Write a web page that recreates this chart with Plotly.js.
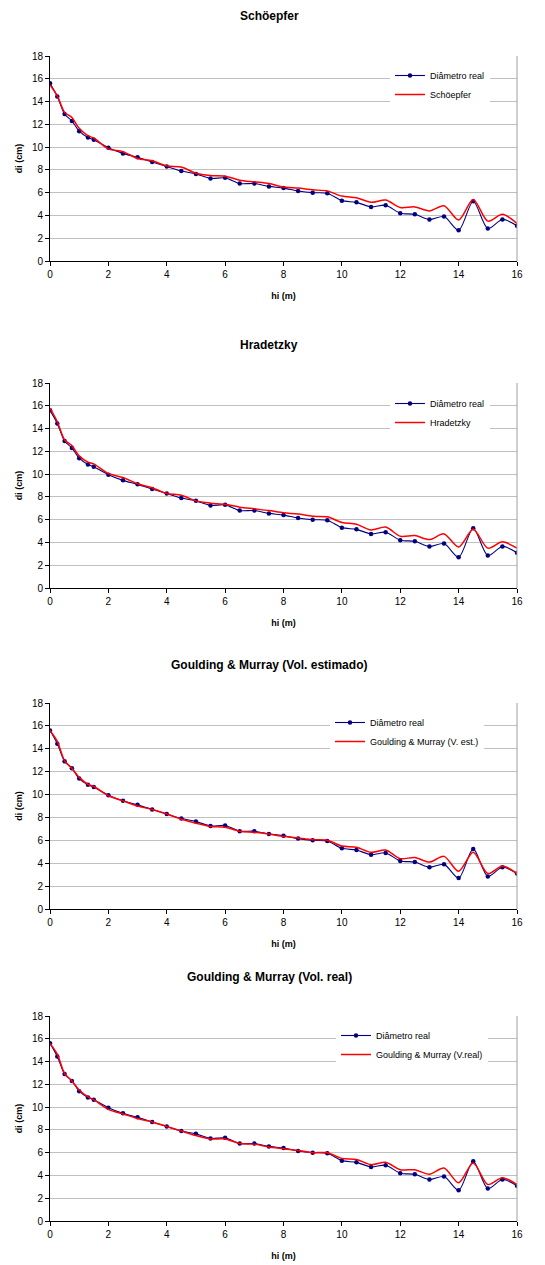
<!DOCTYPE html>
<html>
<head>
<meta charset="utf-8">
<script src="https://cdn.plot.ly/plotly-3.0.1.min.js"></script>
<style>
  html, body { margin: 0; padding: 0; background: #ffffff; }
  #chart { width: 545px; height: 1265px; }
</style>
</head>
<body>
<div id="chart"></div>
<script>
// ---- data ----
const hi = [0, 0.25, 0.5, 0.75, 1, 1.3, 1.5, 2, 2.5, 3, 3.5, 4, 4.5, 5, 5.5, 6, 6.5, 7, 7.5, 8, 8.5, 9, 9.5, 10, 10.5, 11, 11.5, 12, 12.5, 13, 13.5, 14, 14.5, 15, 15.5, 16];
const diametroReal = [15.6, 14.45, 12.9, 12.3, 11.4, 10.85, 10.65, 9.95, 9.45, 9.1, 8.7, 8.3, 7.9, 7.65, 7.25, 7.3, 6.8, 6.8, 6.55, 6.4, 6.15, 6.0, 5.95, 5.3, 5.15, 4.75, 4.9, 4.2, 4.1, 3.65, 3.9, 2.7, 5.25, 2.85, 3.65, 3.1];
const schoepfer = [15.45, 14.5, 13.05, 12.6, 11.65, 11.0, 10.8, 9.85, 9.6, 9.0, 8.8, 8.35, 8.25, 7.7, 7.5, 7.45, 7.1, 6.95, 6.8, 6.5, 6.4, 6.25, 6.15, 5.7, 5.55, 5.15, 5.35, 4.7, 4.75, 4.4, 4.85, 3.6, 5.4, 3.5, 4.1, 3.3];
const hradetzky = [15.8, 14.6, 13.0, 12.5, 11.6, 11.05, 10.9, 10.05, 9.7, 9.15, 8.8, 8.3, 8.15, 7.65, 7.45, 7.35, 7.1, 6.95, 6.8, 6.6, 6.5, 6.3, 6.25, 5.75, 5.6, 5.1, 5.35, 4.55, 4.6, 4.25, 4.75, 3.6, 5.15, 3.5, 4.05, 3.5];
const gmEstimado = [15.6, 14.65, 12.95, 12.3, 11.5, 10.9, 10.7, 9.9, 9.45, 9.0, 8.7, 8.3, 7.85, 7.5, 7.2, 7.15, 6.8, 6.7, 6.55, 6.35, 6.2, 6.05, 6.0, 5.5, 5.4, 4.95, 5.15, 4.4, 4.5, 4.1, 4.6, 3.3, 4.95, 3.1, 3.75, 3.1];
const gmReal = [15.6, 14.65, 12.95, 12.3, 11.5, 10.9, 10.65, 9.8, 9.4, 9.0, 8.7, 8.3, 7.9, 7.5, 7.2, 7.2, 6.8, 6.75, 6.5, 6.35, 6.2, 6.0, 6.0, 5.5, 5.4, 4.95, 5.15, 4.5, 4.5, 4.1, 4.65, 3.35, 5.1, 3.2, 3.8, 3.2];

const chartTitles = ["Schöepfer", "Hradetzky", "Goulding & Murray (Vol. estimado)", "Goulding & Murray (Vol. real)"];
const modelNames = ["Schöepfer", "Hradetzky", "Goulding & Murray (V. est.)", "Goulding & Murray (V.real)"];
const modelSeries = [schoepfer, hradetzky, gmEstimado, gmReal];
const realName = "Diâmetro real";
const xTitle = "hi (m)";
const yTitle = "di (cm)";
const xTicks = [0, 2, 4, 6, 8, 10, 12, 14, 16];
const yTicks = [0, 2, 4, 6, 8, 10, 12, 14, 16, 18];

// ---- layout geometry (pixels) ----
const W = 545, H = 1265;
const plotLeft = 50, plotRight = 517;
const plotTops = [56, 383, 703, 1016];
const plotBottoms = [261, 588, 909, 1221];
const titleYs = [16, 345, 665, 977];
const legendLefts = [390, 390, 330, 336];
const legendTopY = [61, 389, 708, 1021];

const px = x => x / W;
const py = y => 1 - y / H;

const FONT = "Liberation Sans, Arial, Helvetica, sans-serif";
const traces = [];
const layout = {
  width: W, height: H,
  margin: {l: 0, r: 0, t: 0, b: 0},
  paper_bgcolor: "#ffffff",
  plot_bgcolor: "#ffffff",
  font: {family: FONT, size: 10, color: "#000000"},
  annotations: [],
  shapes: [],
  showlegend: true
};

for (let i = 0; i < 4; i++) {
  const sfx = i === 0 ? "" : String(i + 1);
  const xa = "x" + sfx, ya = "y" + sfx;
  const lg = "legend" + sfx;
  traces.push({
    x: hi, y: diametroReal, name: realName, type: "scatter", mode: "lines+markers",
    xaxis: xa, yaxis: ya, legend: lg,
    line: {color: "#000080", width: 1.1, shape: "spline", smoothing: 0.8},
    marker: {color: "#000080", size: 4.5, symbol: "circle"}
  });
  traces.push({
    x: hi, y: modelSeries[i], name: modelNames[i], type: "scatter", mode: "lines",
    xaxis: xa, yaxis: ya, legend: lg,
    line: {color: "#ff0000", width: 1.5, shape: "spline", smoothing: 0.8}
  });
  layout["xaxis" + sfx] = {
    domain: [px(plotLeft), px(plotRight)],
    anchor: ya,
    range: [0, 16], tickvals: xTicks, ticks: "outside", ticklen: 4, tickcolor: "#000000",
    showline: true, linecolor: "#000000", linewidth: 1, showgrid: false, zeroline: false,
    tickfont: {family: FONT, size: 10, color: "#000000"},
    title: {text: xTitle, font: {family: FONT, size: 9, color: "#000000", weight: "bold"}, standoff: 13},
    fixedrange: true
  };
  layout["yaxis" + sfx] = {
    domain: [py(plotBottoms[i]), py(plotTops[i])],
    anchor: xa,
    range: [0, 18], tickvals: yTicks, ticks: "outside", ticklen: 4, tickcolor: "#000000",
    showline: true, linecolor: "#000000", linewidth: 1,
    showgrid: true, gridcolor: "#c0c0c0", gridwidth: 1, zeroline: false,
    tickfont: {family: FONT, size: 10, color: "#000000"},
    title: {text: yTitle, font: {family: FONT, size: 9, color: "#000000", weight: "bold"}, standoff: 7},
    fixedrange: true
  };
  layout[lg] = {
    x: px(legendLefts[i]), y: py(legendTopY[i]), xanchor: "left", yanchor: "top",
    bgcolor: "#ffffff", borderwidth: 0,
    font: {family: FONT, size: 9, color: "#000000"},
    tracegroupgap: 0, itemwidth: 30
  };
  layout.annotations.push({
    text: "<b>" + chartTitles[i] + "</b>", xref: "paper", yref: "paper",
    x: px(269), y: py(titleYs[i]), xanchor: "center", yanchor: "middle",
    showarrow: false, font: {family: FONT, size: 12, color: "#000000"}
  });
  // right border of plot area
  layout.shapes.push({
    type: "line", xref: xa + " domain", yref: ya + " domain",
    x0: 1, x1: 1, y0: 0, y1: 1, line: {color: "#a0a0a0", width: 1}
  });
}

Plotly.newPlot("chart", traces, layout, {displayModeBar: false, staticPlot: true});
</script>
</body>
</html>
